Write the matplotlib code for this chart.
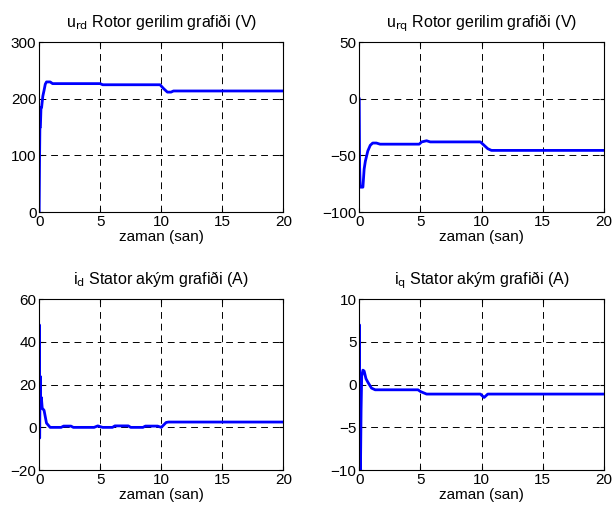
import matplotlib.pyplot as plt

plt.rcParams['font.family'] = ['Liberation Sans', 'DejaVu Sans']

# u_rd rotor voltage
t_urd = [0, 0.03, 0.06, 0.1, 0.15, 0.2, 0.3, 0.4, 0.5, 0.6, 0.9, 1.1, 5.0, 5.2, 9.9, 10.2, 10.5, 10.8, 11.0, 20]
urd = [0, 90, 150, 150, 185, 185, 205, 215, 226, 230, 230, 227, 227, 225, 225, 218, 212, 212, 214, 214]

# u_rq rotor voltage
t_urq = [0, 0.03, 0.08, 0.15, 0.3, 0.4, 0.5, 0.7, 0.9, 1.1, 1.4, 1.7, 4.9, 5.1, 5.5, 5.8, 9.9, 10.2, 10.5, 10.8, 20]
urq = [0, -60, -78, -78, -78, -62, -55, -46, -41, -39, -39, -40, -40, -38, -37, -38, -38, -41, -44, -45.5, -45.5]

# i_d stator current
t_id = [0, 0.02, 0.04, 0.08, 0.12, 0.18, 0.25, 0.4, 0.6, 0.9, 1.8, 2.0, 2.6, 2.8, 4.5, 4.8, 5.2, 6.0, 6.2, 7.3, 7.5, 8.5, 8.7, 9.7, 10.0, 10.4, 10.6, 20]
i_d = [0, 48, -5, 24, 9, 14, 9, 8, 2, 0, 0, 0.6, 0.6, 0, 0, 0.7, 0, 0, 0.7, 0.7, 0, 0, 0.6, 0.6, 0, 2.3, 2.5, 2.5]

# i_q stator current
t_iq = [0, 0.02, 0.05, 0.1, 0.15, 0.2, 0.3, 0.4, 0.55, 0.7, 1.0, 1.3, 4.8, 5.0, 5.5, 9.9, 10.2, 10.5, 20]
i_q = [0, 7, -10, -10, -3, 1, 1.7, 1.6, 0.7, 0.3, -0.4, -0.6, -0.6, -0.8, -1.1, -1.1, -1.5, -1.1, -1.1]

titles = [r'u$_{\rm rd}$ Rotor gerilim grafiði (V)', r'u$_{\rm rq}$ Rotor gerilim grafiði (V)',
          r'i$_{\rm d}$ Stator akým grafiði (A)', r'i$_{\rm q}$ Stator akým grafiði (A)']
ylims = [(0, 300), (-100, 50), (-20, 60), (-10, 10)]
yticks = [[0, 100, 200, 300], [-100, -50, 0, 50], [-20, 0, 20, 40, 60], [-10, -5, 0, 5, 10]]
data = [(t_urd, urd), (t_urq, urq), (t_id, i_d), (t_iq, i_q)]
boxes = [[0.064, 0.589, 0.399, 0.329], [0.587, 0.589, 0.400, 0.329],
         [0.064, 0.089, 0.399, 0.331], [0.587, 0.089, 0.400, 0.331]]

fig = plt.figure(figsize=(6.12, 5.16), dpi=100)
for i in range(4):
    ax = fig.add_axes(boxes[i])
    t, y = data[i]
    ax.plot(t, y, color='#0000ff', lw=2)
    ax.set_xlim(0, 20)
    ax.set_ylim(*ylims[i])
    ax.set_xticks([0, 5, 10, 15, 20])
    ax.set_yticks(yticks[i])
    ax.grid(True, color='black', ls=(0, (7, 5)), lw=0.7)
    ax.tick_params(direction='in', length=3, labelsize=11, pad=2, top=True, right=True)
    ax.set_title(titles[i], fontsize=11.5, pad=11)
    ax.set_xlabel('zaman (san)', fontsize=11, labelpad=1)
    for s in ax.spines.values():
        s.set_linewidth(0.8)

fig.savefig('out.png', dpi=100)
